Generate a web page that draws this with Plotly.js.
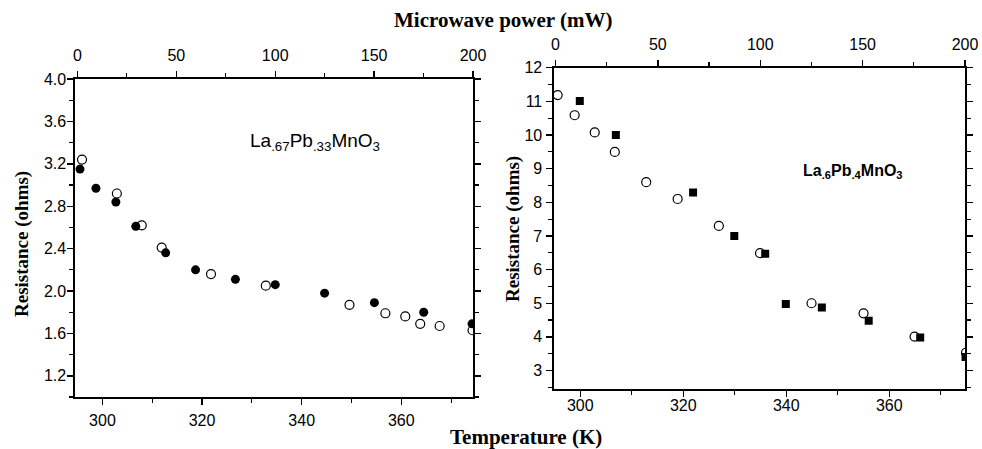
<!DOCTYPE html>
<html>
<head>
<meta charset="utf-8">
<script src="https://cdn.plot.ly/plotly-3.0.1.min.js"></script>
<style>html,body{margin:0;padding:0;background:#fff;}#chart{width:982px;height:449px;}</style>
</head>
<body>
<div id="chart"></div>
<script>
// Left panel: La.67Pb.33MnO3
const leftFilledT = [295.5, 298.7, 302.7, 306.7, 312.7, 318.7, 326.7, 334.7, 344.6, 354.6, 364.5, 374.2];
const leftFilledR = [3.15, 2.97, 2.84, 2.61, 2.36, 2.20, 2.11, 2.06, 1.98, 1.89, 1.80, 1.69];
const leftOpenT = [295.9, 302.9, 307.9, 311.9, 321.8, 332.8, 349.6, 356.8, 360.8, 363.8, 367.7, 374.3];
const leftOpenR = [3.24, 2.92, 2.62, 2.41, 2.16, 2.05, 1.87, 1.79, 1.76, 1.69, 1.67, 1.63];
// Right panel: La.6Pb.4MnO3
const rightOpenT = [295.6, 298.9, 302.8, 306.7, 312.8, 318.9, 326.9, 334.9, 344.9, 355.0, 364.9, 374.9];
const rightOpenR = [11.19, 10.59, 10.08, 9.50, 8.60, 8.10, 7.30, 6.49, 5.00, 4.70, 4.01, 3.53];
const rightFilledT = [299.9, 306.9, 321.9, 329.9, 335.9, 339.9, 346.9, 356.0, 366.0, 374.8];
const rightFilledR = [11.01, 10.0, 8.29, 7.0, 6.47, 4.98, 4.87, 4.48, 3.98, 3.40];

// Microwave power axis range (mW)
const powerRange = [0, 200];

const topTitle = 'Microwave power (mW)';
const bottomTitle = 'Temperature (K)';
const yTitle = 'Resistance (ohms)';
const leftLabel = 'La<sub>.67</sub>Pb<sub>.33</sub>MnO<sub>3</sub>';
const rightLabel = 'La<sub>.6</sub>Pb<sub>.4</sub>MnO<sub>3</sub>';

const tickFont = {family: 'Liberation Sans, Arial, sans-serif', size: 16, color: '#000'};
const titleFont = {family: 'Liberation Serif, Times New Roman, serif', size: 21, color: '#000'};
const yTitleFont = {family: 'Liberation Serif, Times New Roman, serif', size: 19, color: '#000'};

function axisBase(extra) {
  return Object.assign({
    showline: true, linecolor: '#000', linewidth: 1.6,
    showgrid: false, zeroline: false,
    ticks: 'outside', ticklen: 6, tickwidth: 1.4, tickcolor: '#000',
    tickfont: tickFont, fixedrange: true
  }, extra);
}

const traces = [
  {x: leftFilledT, y: leftFilledR, xaxis: 'x', yaxis: 'y', mode: 'markers', type: 'scatter',
   marker: {symbol: 'circle', size: 9, color: '#000'}},
  {x: leftOpenT, y: leftOpenR, xaxis: 'x', yaxis: 'y', mode: 'markers', type: 'scatter',
   marker: {symbol: 'circle-open', size: 9, color: '#000', line: {width: 1.2}}},
  {x: rightOpenT, y: rightOpenR, xaxis: 'x3', yaxis: 'y2', mode: 'markers', type: 'scatter',
   marker: {symbol: 'circle-open', size: 9, color: '#000', line: {width: 1.2}}},
  {x: rightFilledT, y: rightFilledR, xaxis: 'x3', yaxis: 'y2', mode: 'markers', type: 'scatter',
   marker: {symbol: 'square', size: 8, color: '#000'}},
  // carriers for the top (microwave power) axes; no visible marks
  {x: powerRange, y: [null, null], xaxis: 'x2', yaxis: 'y', mode: 'markers', type: 'scatter',
   marker: {opacity: 0}, hoverinfo: 'skip'},
  {x: powerRange, y: [null, null], xaxis: 'x4', yaxis: 'y2', mode: 'markers', type: 'scatter',
   marker: {opacity: 0}, hoverinfo: 'skip'}
];

const layout = {
  width: 982, height: 449,
  margin: {l: 0, r: 0, t: 0, b: 0},
  paper_bgcolor: '#fff', plot_bgcolor: '#fff',
  showlegend: false,
  xaxis: axisBase({domain: [0.0764, 0.4817], anchor: 'y', range: [294.5, 374.4],
    tick0: 300, dtick: 20, ticklabelstandoff: 2,
    minor: {dtick: 10, ticks: 'outside', ticklen: 4, tickcolor: '#000', tickwidth: 1.2}}),
  xaxis2: axisBase({overlaying: 'x', side: 'top', anchor: 'y', range: [-1.2, 200],
    tick0: 0, dtick: 50, ticklabelstandoff: 4,
    minor: {dtick: 25, ticks: 'outside', ticklen: 4, tickcolor: '#000', tickwidth: 1.2}}),
  yaxis: axisBase({domain: [0.1158, 0.824], anchor: 'x', range: [1.0, 4.0],
    tick0: 1.2, dtick: 0.4, tickformat: '.1f', mirror: 'ticks', ticklabelstandoff: -2,
    minor: {dtick: 0.2, ticks: 'outside', ticklen: 4, tickcolor: '#000', tickwidth: 1.2}}),
  xaxis3: axisBase({domain: [0.5642, 0.9827], anchor: 'y2', range: [294.9, 374.7],
    tick0: 300, dtick: 20, ticklabelstandoff: -5,
    minor: {dtick: 10, ticks: 'outside', ticklen: 4, tickcolor: '#000', tickwidth: 1.2}}),
  xaxis4: axisBase({overlaying: 'x3', side: 'top', anchor: 'y2', range: [-0.7, 200],
    tick0: 0, dtick: 50, ticklabelstandoff: 4,
    minor: {dtick: 25, ticks: 'outside', ticklen: 4, tickcolor: '#000', tickwidth: 1.2}}),
  yaxis2: axisBase({domain: [0.1336, 0.849], anchor: 'x3', range: [2.45, 12],
    tick0: 3, dtick: 1, mirror: 'ticks', ticklabelstandoff: 1,
    minor: {dtick: 0.5, ticks: 'outside', ticklen: 4, tickcolor: '#000', tickwidth: 1.2}}),
  annotations: [
    {text: '<b>' + topTitle + '</b>', xref: 'paper', yref: 'paper', x: 503 / 982, y: 1 - 20 / 449,
     showarrow: false, font: titleFont, xanchor: 'center', yanchor: 'middle'},
    {text: '<b>' + bottomTitle + '</b>', xref: 'paper', yref: 'paper', x: 526 / 982, y: 1 - 437 / 449,
     showarrow: false, font: titleFont, xanchor: 'center', yanchor: 'middle'},
    {text: '<b>' + yTitle + '</b>', xref: 'paper', yref: 'paper', x: 22 / 982, y: 1 - 244 / 449,
     showarrow: false, font: yTitleFont, textangle: -90, xanchor: 'center', yanchor: 'middle'},
    {text: '<b>' + yTitle + '</b>', xref: 'paper', yref: 'paper', x: 513 / 982, y: 1 - 229 / 449,
     showarrow: false, font: yTitleFont, textangle: -90, xanchor: 'center', yanchor: 'middle'},
    {text: leftLabel, xref: 'paper', yref: 'paper', x: 315 / 982, y: 1 - 142 / 449,
     showarrow: false, font: {family: 'Liberation Sans, Arial, sans-serif', size: 19, color: '#000'},
     xanchor: 'center', yanchor: 'middle'},
    {text: '<b>' + rightLabel + '</b>', xref: 'paper', yref: 'paper', x: 853 / 982, y: 1 - 171 / 449,
     showarrow: false, font: {family: 'Liberation Sans, Arial, sans-serif', size: 16, color: '#000'},
     xanchor: 'center', yanchor: 'middle'}
  ]
};

Plotly.newPlot('chart', traces, layout, {staticPlot: true, displayModeBar: false});
</script>
</body>
</html>
